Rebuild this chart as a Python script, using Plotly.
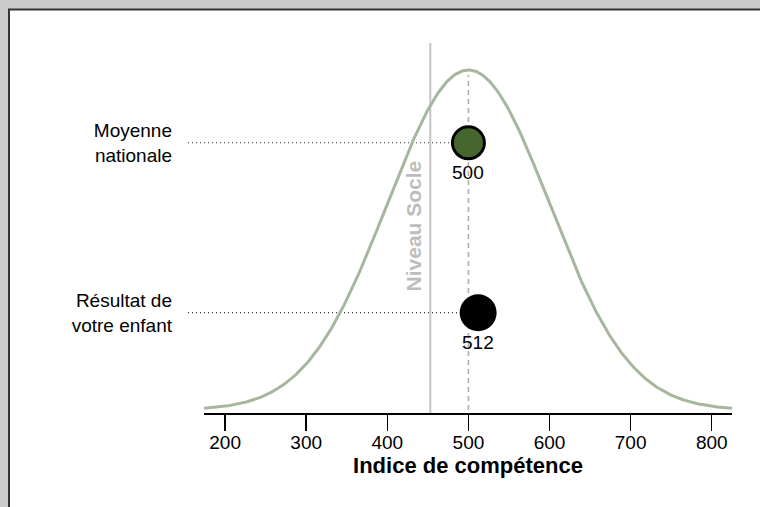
import numpy as np
import plotly.graph_objects as go

# ---- data ----
dist_mean = 500
dist_sd = 100
socle_level = 453
categories = ["Moyenne nationale", "Résultat de votre enfant"]
category_labels = ["Moyenne<br>nationale", "Résultat de<br>votre enfant"]
scores = [500, 512]
x_ticks = [200, 300, 400, 500, 600, 700, 800]
x_title = "Indice de compétence"
socle_label = "Niveau Socle"

# ---- layout geometry ----
W, H = 760, 507
ML, MR, MT, MB = 204, 28, 43, 94
PW, PH = W - ML - MR, H - MT - MB
x_range = [174, 825]

FONT = "Liberation Sans, Arial, sans-serif"
SAGE = "#a7b79e"
GREEN = "#466630"

peak = 1.0 / (dist_sd * np.sqrt(2 * np.pi))
xs = np.linspace(x_range[0], x_range[1], 400)
dens = peak * np.exp(-0.5 * ((xs - dist_mean) / dist_sd) ** 2)
y_range = [-(3 / 340) * peak, (367 / 340) * peak]

fig = go.Figure()

# density curve
fig.add_trace(go.Scatter(x=xs, y=dens, mode="lines",
                         line=dict(color=SAGE, width=3), hoverinfo="skip",
                         showlegend=False))
# dashed mean line
fig.add_trace(go.Scatter(x=[dist_mean, dist_mean], y=[0, peak * 0.985], mode="lines",
                         line=dict(color=SAGE, width=1.6, dash="5px,4px"),
                         hoverinfo="skip", showlegend=False))

# points on secondary categorical axis
fig.add_trace(go.Scatter(x=scores, y=categories, yaxis="y2", mode="markers",
                         marker=dict(size=[32, 37], color=[GREEN, "black"], opacity=1,
                                     line=dict(color="black", width=[3, 0])),
                         showlegend=False))

shapes = []
# white panel with dark border (right/bottom edges fall just outside the view)
shapes.append(dict(type="rect", xref="paper", yref="paper", layer="below",
                   x0=(9 - ML) / PW, x1=(W + 4 - ML) / PW,
                   y0=(MT + PH - (H + 4)) / PH, y1=(MT + PH - 9.5) / PH,
                   fillcolor="white", line=dict(color="#333333", width=2)))
# socle line
shapes.append(dict(type="line", xref="x", yref="paper", layer="below",
                   x0=socle_level, x1=socle_level, y0=0, y1=1,
                   line=dict(color="#c4c4c4", width=2)))
# dotted guide lines
for cat, sc in zip(categories, scores):
    shapes.append(dict(type="line", xref="paper", yref="y2", layer="below",
                       x0=(188 - ML) / PW,
                       x1=(sc - x_range[0]) / (x_range[1] - x_range[0]),
                       y0=cat, y1=cat,
                       line=dict(color="#333333", width=1.2, dash="1px,3px")))

annotations = []
for cat, sc in zip(categories, scores):
    annotations.append(dict(x=sc, y=cat, xref="x", yref="y2", text=str(sc),
                            showarrow=False, yshift=-30,
                            font=dict(family=FONT, size=19, color="black")))
annotations.append(dict(x=socle_level, y=0.505, xref="x", yref="paper",
                        text="<b>%s</b>" % socle_label, textangle=-90,
                        showarrow=False, xshift=-17,
                        font=dict(family=FONT, size=21, color="#bdbdbd")))

fig.update_layout(
    width=W, height=H,
    margin=dict(l=ML, r=MR, t=MT, b=MB, pad=0),
    paper_bgcolor="#cccccc", plot_bgcolor="white",
    font=dict(family=FONT, size=19, color="black"),
    xaxis=dict(range=x_range, tickvals=x_ticks, ticktext=[str(t) for t in x_ticks],
               showgrid=False, zeroline=False, showline=True, linecolor="black",
               linewidth=1.5, ticks="outside", ticklen=16, tickwidth=1.5,
               tickcolor="black", tickfont=dict(size=19), ticklabelstandoff=-4,
               title=dict(text="<b>%s</b>" % x_title, font=dict(size=22), standoff=0)),
    yaxis=dict(range=y_range, visible=False, fixedrange=True),
    yaxis2=dict(overlaying="y", type="category", categoryorder="array",
                categoryarray=categories[::-1], range=[-0.59, 1.587],
                tickvals=categories, ticktext=category_labels,
                showgrid=False, zeroline=False, showline=False, ticks="",
                ticklabelstandoff=31, tickfont=dict(size=19)),
    shapes=shapes, annotations=annotations,
)

fig.write_html("out.html",
               config={"displayModeBar": False, "staticPlot": True},
               post_script="document.body.style.margin='0';"
                           "document.body.style.overflow='hidden';")
